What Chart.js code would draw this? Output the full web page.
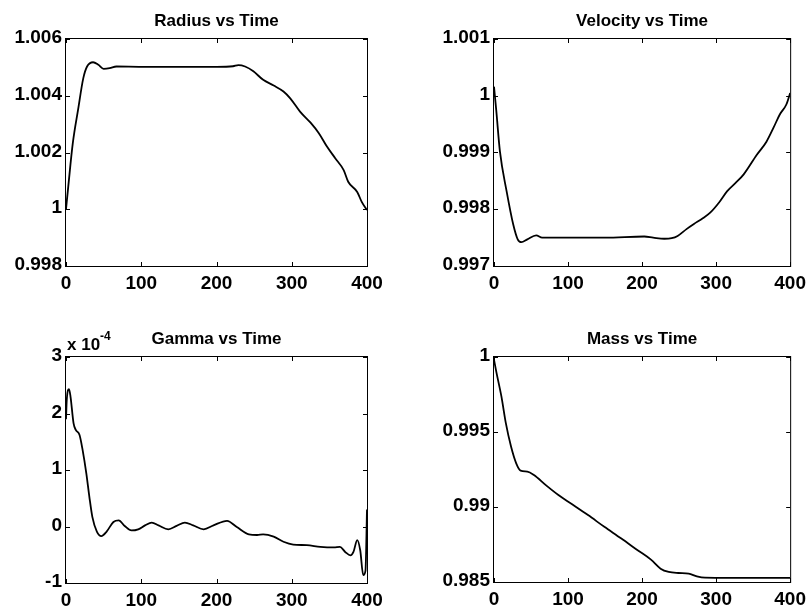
<!DOCTYPE html>
<html>
<head>
<meta charset="utf-8">
<script src="https://cdn.jsdelivr.net/npm/chart.js@4"></script>
<style>
  body { margin: 0; background: #fff; }
  #wrap { position: relative; width: 812px; height: 609px; }
  canvas { position: absolute; }
</style>
</head>
<body>
<div id="wrap">
  <canvas id="radius" width="406" height="300" style="left:0;top:0"></canvas>
  <canvas id="velocity" width="406" height="300" style="left:406px;top:0"></canvas>
  <canvas id="gamma" width="406" height="309" style="left:0;top:300px"></canvas>
  <canvas id="mass" width="406" height="309" style="left:406px;top:300px"></canvas>
</div>
<script>
// time axis shared by all four panels
const timeTicks = [0, 100, 200, 300, 400];
const timeTickLabels = ['0', '100', '200', '300', '400'];

// Radius vs Time
const radiusTime = [0, 3, 9, 16, 23, 28, 36, 43, 50, 58, 67, 100, 150, 200, 222, 229, 238, 249, 262, 276, 289, 298, 311, 325, 336, 347, 358, 369, 375, 387, 393, 400];
const radiusValues = [1.0000, 1.0008, 1.00232, 1.0035, 1.00462, 1.00503, 1.00518, 1.00509, 1.00495, 1.00497, 1.00503, 1.00502, 1.00502, 1.00502, 1.00504, 1.00508, 1.00503, 1.00486, 1.00456, 1.00436, 1.00415, 1.00391, 1.00344, 1.00305, 1.00268, 1.0022, 1.00179, 1.00138, 1.00097, 1.00061, 1.00026, 0.99997];
const radiusTicks = [0.998, 1, 1.002, 1.004, 1.006];
const radiusTickLabels = ['0.998', '1', '1.002', '1.004', '1.006'];

// Velocity vs Time
const velocityTime = [0, 3, 8, 17, 26, 32, 37, 45, 57, 65, 100, 150, 203, 215, 230, 240, 248, 260, 270, 282, 292, 304, 315, 326, 337, 355, 368, 378, 386, 395, 400];
const velocityValues = [1.00016, 0.99975, 0.99902, 0.99832, 0.99773, 0.99747, 0.99742, 0.99747, 0.99754, 0.9975, 0.9975, 0.9975, 0.99752, 0.9975, 0.99748, 0.99749, 0.99753, 0.99765, 0.99774, 0.99784, 0.99794, 0.99812, 0.99832, 0.99846, 0.99861, 0.99896, 0.99919, 0.99945, 0.99967, 0.99985, 1.00005];
const velocityTicks = [0.997, 0.998, 0.999, 1, 1.001];
const velocityTickLabels = ['0.997', '0.998', '0.999', '1', '1.001'];

// Gamma vs Time (values in units of 1e-4)
const gammaTime = [0, 1, 4, 6, 10, 13, 18, 22, 27, 31, 35, 41, 47, 54, 63, 70, 78, 87, 96, 105, 114, 123, 136, 147, 158, 169, 183, 196, 214, 227, 243, 254, 262, 276, 289, 302, 320, 338, 356, 364, 371, 378, 382, 387, 391, 395, 398, 400];
const gammaValues = [1.9, 2.24, 2.43, 2.3, 1.83, 1.71, 1.62, 1.36, 0.94, 0.53, 0.17, -0.09, -0.17, -0.09, 0.08, 0.11, 0.01, -0.07, -0.05, 0.02, 0.07, 0.02, -0.05, 0.01, 0.07, 0.02, -0.05, 0.02, 0.10, -0.01, -0.14, -0.15, -0.14, -0.18, -0.27, -0.32, -0.33, -0.36, -0.37, -0.36, -0.45, -0.51, -0.45, -0.24, -0.42, -0.86, -0.78, 0.3];
const gammaTicks = [-1, 0, 1, 2, 3];
const gammaTickLabels = ['-1', '0', '1', '2', '3'];

// Mass vs Time
const massTime = [0, 3, 10, 16, 23, 30, 36, 45, 54, 70, 87, 105, 127, 149, 172, 194, 212, 225, 236, 249, 263, 274, 285, 305, 350, 400];
const massValues = [0.99982, 0.99904, 0.99737, 0.99559, 0.99403, 0.99291, 0.99242, 0.99236, 0.99213, 0.99146, 0.9908, 0.9902, 0.98946, 0.98868, 0.9879, 0.98712, 0.98649, 0.98589, 0.98567, 0.9856, 0.98556, 0.98538, 0.98529, 0.98528, 0.98528, 0.98528];
const massTicks = [0.985, 0.99, 0.995, 1];
const massTickLabels = ['0.985', '0.99', '0.995', '1'];

const FONT = '"Liberation Sans", Arial, sans-serif';

// matlab-style box, inward ticks on all sides, title and exponent label
const matlabFrame = {
  id: 'matlabFrame',
  afterDraw(chart, args, opts) {
    const { ctx, chartArea: a, scales: { x, y } } = chart;
    ctx.save();
    ctx.strokeStyle = '#000';
    ctx.lineWidth = 1;
    ctx.strokeRect(a.left - 0.5, a.top - 0.5, a.right - a.left + 1, a.bottom - a.top + 1);
    ctx.beginPath();
    x.ticks.forEach(t => {
      const px = Math.round(x.getPixelForValue(t.value)) + 0.5;
      ctx.moveTo(px, a.bottom); ctx.lineTo(px, a.bottom - 4);
      ctx.moveTo(px, a.top); ctx.lineTo(px, a.top + 4);
    });
    y.ticks.forEach(t => {
      const py = Math.round(y.getPixelForValue(t.value)) + 0.5;
      ctx.moveTo(a.left, py); ctx.lineTo(a.left + 4, py);
      ctx.moveTo(a.right, py); ctx.lineTo(a.right - 4, py);
    });
    ctx.stroke();

    ctx.fillStyle = '#000';
    ctx.font = 'bold 17px ' + FONT;
    ctx.textAlign = 'center';
    ctx.textBaseline = 'alphabetic';
    ctx.fillText(opts.title, (a.left + a.right) / 2, a.top - 13);

    if (opts.exponent) {
      ctx.textAlign = 'left';
      ctx.font = 'bold 17px ' + FONT;
      const base = 'x 10';
      ctx.fillText(base, a.left + 1, a.top - 7);
      const w = ctx.measureText(base).width;
      ctx.font = 'bold 12px ' + FONT;
      ctx.fillText(opts.exponent, a.left + 1 + w, a.top - 17);
    }
    ctx.restore();
  }
};

function makeChart(id, times, values, yTicks, yLabels, title, box, exponent) {
  const tickFont = { family: FONT, size: 19, weight: 'bold' };
  new Chart(document.getElementById(id), {
    type: 'line',
    data: {
      datasets: [{
        data: times.map((t, i) => ({ x: t, y: values[i] })),
        borderColor: '#000',
        borderWidth: 1.8,
        pointRadius: 0,
        fill: false,
        cubicInterpolationMode: 'monotone',
      }],
    },
    options: {
      responsive: false,
      animation: false,
      layout: { padding: { top: box.top, right: box.right, left: 0, bottom: 0 } },
      plugins: {
        legend: { display: false },
        tooltip: { enabled: false },
        matlabFrame: { title: title, exponent: exponent },
      },
      scales: {
        x: {
          type: 'linear',
          min: 0,
          max: 400,
          grid: { display: false, drawTicks: false },
          border: { display: false },
          afterBuildTicks: s => { s.ticks = timeTicks.map(v => ({ value: v })); },
          afterFit: s => { s.height = box.xh; },
          ticks: {
            color: '#000', font: tickFont, padding: 6, maxRotation: 0, autoSkip: false,
            callback: (v, i) => timeTickLabels[i],
          },
        },
        y: {
          min: yTicks[0],
          max: yTicks[yTicks.length - 1],
          grid: { display: false, drawTicks: false },
          border: { display: false },
          afterBuildTicks: s => { s.ticks = yTicks.map(v => ({ value: v })); },
          afterFit: s => { s.width = box.left; },
          ticks: {
            color: '#000', font: tickFont, padding: 4, labelOffset: -1, autoSkip: false,
            callback: (v, i) => yLabels[i],
          },
        },
      },
    },
    plugins: [matlabFrame],
  });
}

makeChart('radius', radiusTime, radiusValues, radiusTicks, radiusTickLabels, 'Radius vs Time',
  { left: 66, top: 39, right: 39, xh: 34 });
makeChart('velocity', velocityTime, velocityValues, velocityTicks, velocityTickLabels, 'Velocity vs Time',
  { left: 88, top: 39, right: 18, xh: 34 });
makeChart('gamma', gammaTime, gammaValues, gammaTicks, gammaTickLabels, 'Gamma vs Time',
  { left: 66, top: 57, right: 39, xh: 26 }, '-4');
makeChart('mass', massTime, massValues, massTicks, massTickLabels, 'Mass vs Time',
  { left: 88, top: 57, right: 18, xh: 27 });
</script>
</body>
</html>
